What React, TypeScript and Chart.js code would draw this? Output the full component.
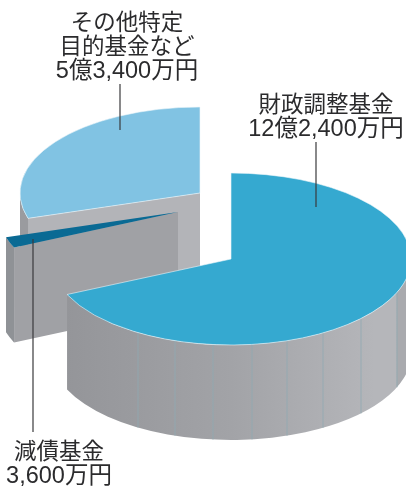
import React, { useEffect, useRef } from "react";
import { Chart, registerables } from "chart.js";

Chart.register(...registerables);

// Fund balances in units of 10,000 yen, clockwise from twelve o'clock.
const fundValues = [122400, 3600, 53400];
const fundColors = ["#35a9d0", "#0a6a94", "#81c3e3"];
const fundBorderWidths = [0.8, 0, 0.8];

// Label text above the value line for each fund.
const fundNames = [["財政調整基金"], ["減債基金"], ["その他特定", "目的基金など"]];

const WIDTH = 406;
const HEIGHT = 488;
const RADIUS = 180;
const TILT = 86 / 180;
const DEPTH = 95;
const FONT = '"Liberation Sans", "Noto Sans CJK JP", sans-serif';

// Where each exploded wedge's apex lands on the page.
const apexes = [
  { x: 231, y: 259 },
  { x: 178, y: 212 },
  { x: 200, y: 193 },
];

// Label block centres, first-line baselines and leader lines per fund.
const labelLayout = [
  { cx: 326, y: 112, leader: [316, 142, 207] },
  { cx: 59, y: 459, leader: [33, 239, 432] },
  { cx: 127, y: 30, leader: [120, 84, 130] },
];

// Horizontal offsets of the thin seams on the big wedge's rim.
const rimSeams = [-93, -56, -18, 21, 56, 92, 130, 166];

const formatYen = (v: number) => {
  const oku = Math.floor(v / 10000);
  const man = v % 10000;
  return (oku ? `${oku}億` : "") + `${man.toLocaleString("en-US")}万円`;
};

const ellipseAt = (c: { x: number; y: number }, a: number) => ({
  x: c.x + RADIUS * Math.cos(a),
  y: c.y + RADIUS * TILT * Math.sin(a),
});

// Side wall following the rim between two angles.
function rimPath(ctx: CanvasRenderingContext2D, c: { x: number; y: number }, a0: number, a1: number) {
  ctx.beginPath();
  ctx.ellipse(c.x, c.y, RADIUS, RADIUS * TILT, 0, a0, a1, false);
  ctx.ellipse(c.x, c.y + DEPTH, RADIUS, RADIUS * TILT, 0, a1, a0, true);
  ctx.closePath();
}

// Flat wall hanging from the radial edge at the given angle.
function radialWall(ctx: CanvasRenderingContext2D, c: { x: number; y: number }, a: number, color: string) {
  const p = ellipseAt(c, a);
  ctx.beginPath();
  ctx.moveTo(c.x, c.y);
  ctx.lineTo(p.x, p.y);
  ctx.lineTo(p.x, p.y + DEPTH);
  ctx.lineTo(c.x, c.y + DEPTH);
  ctx.closePath();
  ctx.fillStyle = color;
  ctx.fill();
}

const explodedPie = {
  id: "explodedPie",
  beforeDatasetsDraw(chart: any) {
    const ctx: CanvasRenderingContext2D = chart.ctx;
    const arcs = chart.getDatasetMeta(0).data;

    const drawTop = (i: number) => {
      const arc = arcs[i];
      const c = apexes[i];
      ctx.save();
      ctx.translate(c.x, c.y);
      ctx.scale(1, TILT);
      ctx.translate(-arc.x, -arc.y);
      arc.draw(ctx);
      ctx.restore();
    };

    // Back wedge
    const far = arcs[2];
    radialWall(ctx, apexes[2], far.startAngle, "#b3b4b8");
    rimPath(ctx, apexes[2], far.startAngle, Math.PI);
    ctx.fillStyle = "#9a9b9f";
    ctx.fill();
    drawTop(2);

    // Thin wedge
    const thin = arcs[1];
    rimPath(ctx, apexes[1], thin.startAngle, thin.endAngle);
    ctx.fillStyle = "#8f9296";
    ctx.fill();
    radialWall(ctx, apexes[1], thin.startAngle, "#a0a1a5");
    drawTop(1);

    // Large front wedge with its shaded rim
    const big = arcs[0];
    const c = apexes[0];
    rimPath(ctx, c, 0, big.endAngle);
    const shade = ctx.createLinearGradient(c.x - RADIUS, 0, c.x + RADIUS, 0);
    shade.addColorStop(0, "#939498");
    shade.addColorStop(0.5, "#a2a3a7");
    shade.addColorStop(0.9, "#b5b6ba");
    shade.addColorStop(0.958, "#b5b6ba");
    shade.addColorStop(0.962, "#a9aaae");
    shade.addColorStop(1, "#a9aaae");
    ctx.fillStyle = shade;
    ctx.fill();
    ctx.strokeStyle = "#90a9b3";
    ctx.lineWidth = 0.8;
    for (const dx of rimSeams) {
      const x = c.x + dx;
      const top = c.y + RADIUS * TILT * Math.sqrt(1 - (dx / RADIUS) ** 2);
      ctx.beginPath();
      ctx.moveTo(x, top);
      ctx.lineTo(x, top + DEPTH);
      ctx.stroke();
    }
    drawTop(0);
    return false;
  },
  afterDraw(chart: any) {
    const ctx: CanvasRenderingContext2D = chart.ctx;
    ctx.save();
    labelLayout.forEach((l, i) => {
      const [x, y0, y1] = l.leader;
      ctx.strokeStyle = "#3a3a3c";
      ctx.lineWidth = 1.2;
      ctx.beginPath();
      ctx.moveTo(x, y0);
      ctx.lineTo(x, y1);
      ctx.stroke();

      ctx.fillStyle = "#2b2b2d";
      ctx.textAlign = "center";
      ctx.textBaseline = "alphabetic";
      ctx.font = `22.5px ${FONT}`;
      fundNames[i].forEach((t, n) => ctx.fillText(t, l.cx, l.y + n * 24));
      ctx.font = `23.5px ${FONT}`;
      ctx.fillText(formatYen(fundValues[i]), l.cx, l.y + fundNames[i].length * 24);
    });
    ctx.restore();
  },
};

export default function App() {
  const ref = useRef<HTMLCanvasElement>(null);
  useEffect(() => {
    const chart = new Chart(ref.current!, {
      type: "pie",
      data: {
        labels: fundNames.map((n) => n.join("")),
        datasets: [
          {
            data: fundValues,
            backgroundColor: fundColors,
            borderColor: "#eef6fa",
            borderWidth: fundBorderWidths,
          },
        ],
      },
      options: {
        animation: false,
        responsive: false,
        radius: RADIUS,
        layout: { padding: 0 },
        plugins: { legend: { display: false }, tooltip: { enabled: false } },
      },
      plugins: [explodedPie],
    } as any);
    return () => chart.destroy();
  }, []);
  return (
    <div style={{ position: "absolute", left: 0, top: 0, width: WIDTH, height: HEIGHT, background: "#fff" }}>
      <canvas ref={ref} width={WIDTH} height={HEIGHT} style={{ display: "block" }} />
    </div>
  );
}
